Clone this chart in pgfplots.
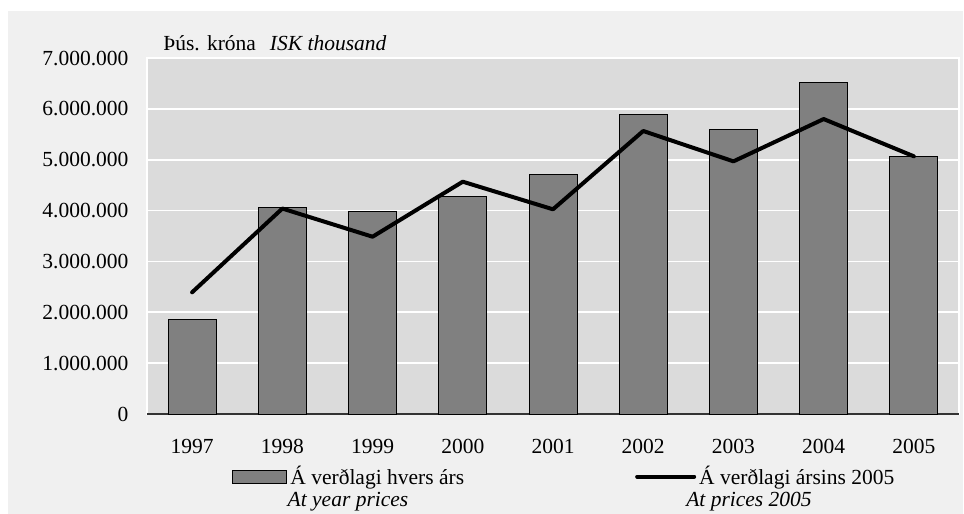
\documentclass[border=0pt]{standalone}
\usepackage{fontspec}
\setmainfont{Liberation Serif}
\usepackage{pgfplots}
\pgfplotsset{compat=1.18}
\definecolor{outerbg}{HTML}{F0F0F0}
\definecolor{plotbg}{HTML}{DBDBDB}
\definecolor{barfill}{HTML}{808080}
\pgfplotsset{
  barleg/.style={legend image code/.code={\draw[fill=barfill, draw=black, line width=0.5pt] (0pt,-3.25pt) rectangle (27pt,3.25pt);}},
  lineleg/.style={legend image code/.code={\draw[black, line width=2pt, line cap=round] (0pt,0pt) -- (28.5pt,0pt);}},
}
\begin{document}
\fontsize{10.75}{13}\selectfont
\begin{tikzpicture}
\useasboundingbox (0,0) rectangle (482pt,-257pt);
\fill[outerbg] (4pt,-5.5pt) rectangle (481.5pt,-257pt);
\begin{axis}[
  at={(73.5pt,-207pt)}, anchor=south west,
  scale only axis, width=406pt, height=178pt,
  xmin=-0.5, xmax=8.5, ymin=0, ymax=7000000,
  axis background/.style={fill=plotbg},
  axis line style={white, line width=1pt},
  xtick={0,1,2,3,4,5,6,7,8},
  xticklabels={1997,1998,1999,2000,2001,2002,2003,2004,2005},
  ytick={0,1000000,2000000,3000000,4000000,5000000,6000000,7000000},
  ymajorgrids, grid style={white, line width=0.8pt},
  major tick length=0pt,
  scaled y ticks=false,
  /pgf/number format/fixed,
  /pgf/number format/use comma,
  /pgf/number format/1000 sep={.},
  /pgf/number format/assume math mode=true,
  ticklabel style={font=\fontsize{10.75}{13}\selectfont},
  yticklabel style={xshift=-5.5pt},
  xticklabel style={yshift=-9pt},
  extra y ticks={0}, extra y tick labels={},
  extra y tick style={grid style={black!80, line width=0.6pt}},
  legend columns=2,
  legend style={at={(0.1047,-0.1756)}, anchor=west, draw=none, fill=none,
    inner sep=0pt, font=\fontsize{10.75}{13}\selectfont,
    nodes={inner sep=1.5pt},
    /tikz/every even column/.append style={column sep=84pt}},
]
\addplot[ybar, bar width=24pt, fill=barfill, draw=black, line width=0.5pt, barleg]
  coordinates {(0,1854000) (1,4064000) (2,3985000) (3,4280000) (4,4713000)
               (5,5892000) (6,5598000) (7,6520000) (8,5060000)};
\addlegendentry{Á verðlagi hvers árs}
\addplot[black, line width=2pt, mark=none, line cap=round, line join=round, lineleg]
  coordinates {(0,2393000) (1,4040000) (2,3486000) (3,4568000) (4,4025000)
               (5,5565000) (6,4968000) (7,5800000) (8,5067000)};
\addlegendentry{Á verðlagi ársins 2005}
\end{axis}
\node[inner sep=0pt, anchor=west] at (81.5pt,-21.5pt) {Þús. króna\hspace{7pt}\textit{ISK thousand}};
\node[inner sep=0pt, font=\itshape] at (174pt,-251pt) {At year prices};
\node[inner sep=0pt, font=\itshape] at (374.5pt,-251pt) {At prices 2005};
\end{tikzpicture}
\end{document}
